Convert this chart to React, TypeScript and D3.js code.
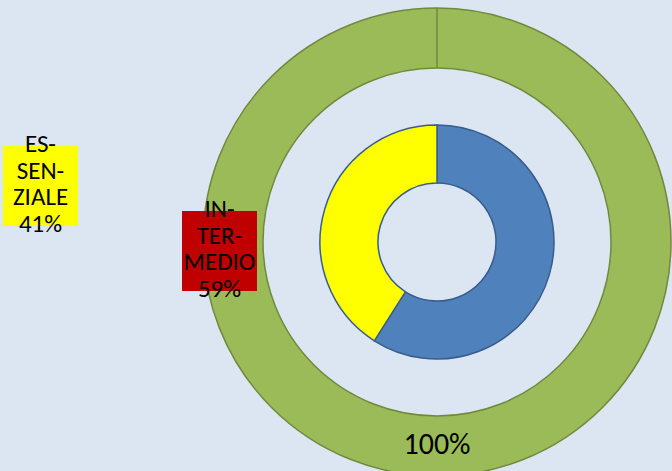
import React, { useRef, useEffect } from "react";
import * as d3 from "d3";

// inner ring
const INNER_CATEGORIES = ["INTERMEDIO", "ESSENZIALE"];
const INNER_VALUES = [59, 41];
const INNER_COLORS = ["#4f81bd", "#ffff00"];
const INNER_LABELS = [["IN-", "TER-", "MEDIO", "59%"], ["ES-", "SEN-", "ZIALE", "41%"]];
const LABEL_BG = ["#c00000", "#ffff00"];

// outer ring
const OUTER_VALUES = [100];
const OUTER_LABELS = ["100%"];

const W = 672;
const H = 471;
const FONT = "Carlito, Calibri, Lato, sans-serif";

const App: React.FC = () => {
  const svgRef = useRef<SVGSVGElement | null>(null);

  useEffect(() => {
    if (!svgRef.current) return;
    const svg = d3.select(svgRef.current);
    svg.selectAll("*").remove();

    svg.append("rect").attr("width", W).attr("height", H).attr("fill", "#dce6f2");

    const cx = 437;
    const cy = 242;
    const g = svg.append("g").attr("transform", `translate(${cx},${cy})`);

    const pie = d3.pie<number>().sort(null).value((d) => d);

    /* outer ring */
    const outerArc = d3.arc<d3.PieArcDatum<number>>().innerRadius(174).outerRadius(234);
    g.selectAll(".outer")
      .data(pie(OUTER_VALUES))
      .join("path")
      .attr("d", outerArc)
      .attr("fill", "#9bbb59")
      .attr("stroke", "#71893f")
      .attr("stroke-width", 1.5);
    // slice seam at 12 o'clock
    g.append("line")
      .attr("x1", 0)
      .attr("x2", 0)
      .attr("y1", -234)
      .attr("y2", -174)
      .attr("stroke", "#71893f")
      .attr("stroke-width", 1.5);

    /* inner ring */
    const innerArc = d3.arc<d3.PieArcDatum<number>>().innerRadius(59).outerRadius(117);
    g.selectAll(".inner")
      .data(pie(INNER_VALUES))
      .join("path")
      .attr("d", innerArc)
      .attr("fill", (_, i) => INNER_COLORS[i])
      .attr("stroke", "#385d8a")
      .attr("stroke-width", 1.5);

    /* data labels */
    const labelPos = [
      { x: 219.5 - cx, y: 211 - cy },
      { x: 40.5 - cx, y: 146 - cy },
    ];
    const boxW = 75;
    const boxH = 80;
    const lineH = 26.6;
    INNER_CATEGORIES.forEach((_, i) => {
      const p = labelPos[i];
      g.append("rect")
        .attr("x", p.x - boxW / 2)
        .attr("y", p.y)
        .attr("width", boxW)
        .attr("height", boxH)
        .attr("fill", LABEL_BG[i]);
      const t = g
        .append("text")
        .attr("text-anchor", "middle")
        .attr("font-family", FONT)
        .attr("font-size", 25)
        .attr("fill", "#000");
      INNER_LABELS[i].forEach((line, li) => {
        t.append("tspan")
          .attr("x", p.x)
          .attr("y", p.y + 6 + li * lineH)
          .text(line);
      });
    });

    g.append("text")
      .attr("x", 0)
      .attr("y", 454 - cy)
      .attr("text-anchor", "middle")
      .attr("font-family", FONT)
      .attr("font-size", 30)
      .attr("fill", "#000")
      .text(OUTER_LABELS[0]);
  }, []);

  return (
    <svg
      ref={svgRef}
      width={W}
      height={H}
      style={{ position: "fixed", left: 0, top: 0, display: "block" }}
    />
  );
};

export default App;
